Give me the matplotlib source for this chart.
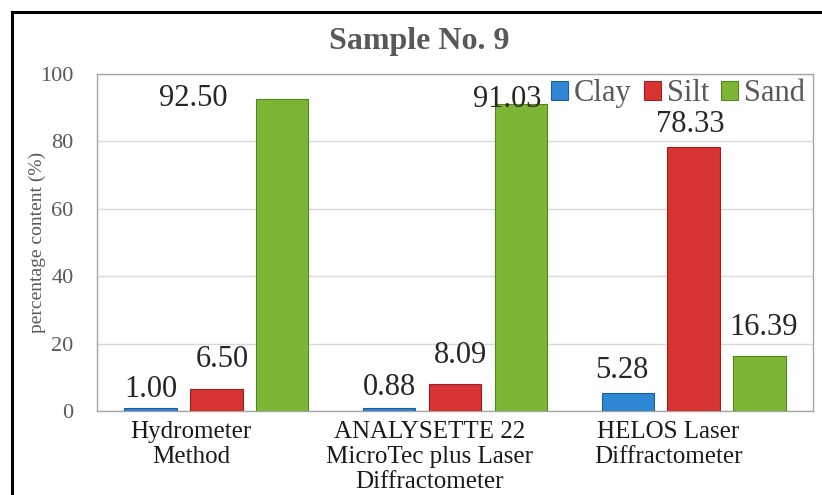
import numpy as np
import matplotlib.pyplot as plt
from matplotlib.patches import Rectangle

# Particle size fractions, sample No. 9
methods = ['Hydrometer\nMethod',
           'ANALYSETTE 22\nMicroTec plus Laser\nDiffractometer',
           'HELOS Laser\nDiffractometer']
fractions = ['Clay', 'Silt', 'Sand']
clay = [1.00, 0.88, 5.28]
silt = [6.50, 8.09, 78.33]
sand = [92.50, 91.03, 16.39]
values = [clay, silt, sand]

colors = ['#2f86d2', '#d83434', '#7db534']
edges = ['#1c5f9c', '#9e2020', '#56841f']

# label offsets in pixels (dx, dy) from the top centre of each bar
offsets = {
    ('Clay', 0): (0, 4), ('Silt', 0): (6, 15), ('Sand', 0): (-89, -14),
    ('Clay', 1): (0, 6), ('Silt', 1): (5, 14), ('Sand', 1): (-14, -10),
    ('Clay', 2): (-6, 8), ('Silt', 2): (-3, 8), ('Sand', 2): (4, 14),
}

plt.rcParams['font.family'] = ['Liberation Serif', 'DejaVu Serif']
gray = '#595959'

fig = plt.figure(figsize=(8.22, 4.95), dpi=100)
ax = fig.add_axes([97 / 822, 1 - 411 / 495, (813 - 97) / 822, (411 - 74) / 495])

x = np.arange(len(methods))
width = 0.22
step = 0.276
for i, (name, vals) in enumerate(zip(fractions, values)):
    pos = x + (i - 1) * step
    ax.bar(pos, vals, width, color=colors[i], edgecolor=edges[i],
           linewidth=0.8, label=name, zorder=3)
    for j, v in enumerate(vals):
        dx, dy = offsets[(name, j)]
        ax.annotate(f'{v:.2f}', (pos[j], v), xytext=(dx, dy),
                    textcoords='offset pixels', ha='center', va='bottom',
                    fontsize=22, color='#262626', zorder=4)

ax.set_xlim(-0.5, 2.5)
ax.set_ylim(0, 100)
ax.set_yticks(range(0, 101, 20))
ax.set_xticks(x - 0.105)
ax.set_xticklabels(methods, fontsize=18, color='#1a1a1a', linespacing=1.18)
ax.tick_params(axis='y', labelsize=16, labelcolor=gray, length=0, pad=17)
ax.tick_params(axis='x', length=0, pad=7)
ax.grid(axis='y', color='#d9d9d9', linewidth=1, zorder=0)
for s in ax.spines.values():
    s.set_color('#a6a6a6')
    s.set_linewidth(1)

ax.set_ylabel('percentage content (%)', fontsize=14, color=gray)
ax.yaxis.set_label_coords(-0.071, 0.5)

leg = ax.legend(loc='upper right', ncol=3, frameon=False, fontsize=22,
                handlelength=0.55, handleheight=0.55, handletextpad=0.2,
                columnspacing=0.4, borderaxespad=0.0,
                bbox_to_anchor=(1.006, 1.02))
for t in leg.get_texts():
    t.set_color(gray)

fig.text(419 / 822, 1 - 42 / 495, 'Sample No. 9', ha='center',
         va='center', fontsize=23, fontweight='bold', color=gray)

# black frame around the figure
fig.patches.append(Rectangle((12 / 822, -0.1), 1.2, 1 - 12 / 495 + 0.1,
                             transform=fig.transFigure, fill=False,
                             edgecolor='black', linewidth=2.2))

fig.savefig('out.png', dpi=100)
